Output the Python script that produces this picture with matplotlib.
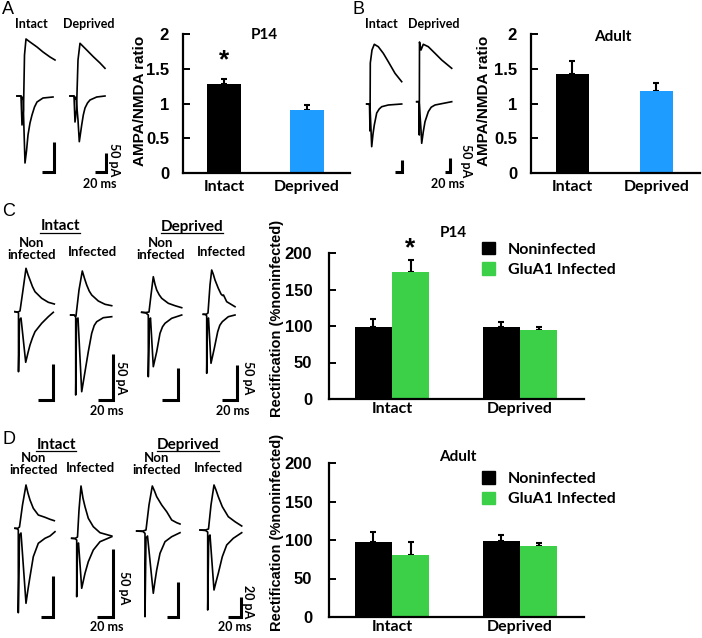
import numpy as np
import matplotlib
matplotlib.use("Agg")
import matplotlib.pyplot as plt
from matplotlib.patches import Patch

plt.rcParams['font.family'] = ['Liberation Sans', 'DejaVu Sans']

# ---------------- bar chart data ----------------
ratio_groups = ['Intact', 'Deprived']
p14_ratio = [1.28, 0.90]
p14_ratio_err = [0.07, 0.08]
adult_ratio = [1.42, 1.18]
adult_ratio_err = [0.19, 0.12]

rect_groups = ['Intact', 'Deprived']
rect_series = ['Noninfected', 'GluA1 Infected']
p14_non = [99, 99]
p14_non_err = [11, 7]
p14_inf = [174, 95]
p14_inf_err = [17, 3]
adult_non = [98, 99]
adult_non_err = [13, 7]
adult_inf = [80, 92]
adult_inf_err = [18, 4]

BLUE = '#1e9cff'
GREEN = '#3ccf48'
LAB = 'Lato'

# ---------------- example traces ----------------
# each cell: (upper t, upper amp, lower t, lower amp), offsets from the cell's baseline start
traces_A = [
    ([0, 4, 5, 6.5, 7.5, 9, 13, 20, 26, 33, 38],
     [0, 0, -29, -14, 41, 57, 54, 49, 44, 39, 36],
     [0, 4, 5, 6, 7, 8, 9.5, 11, 13, 15, 17.5, 20, 26, 36],
     [0, 0, -3, -1, -34, -67, -55, -39, -27, -19, -11, -6, -2, -1]),
    ([0, 4, 5, 6.5, 8, 10, 16.7, 23.3, 30, 35],
     [0, 0, -26, -14, 36, 52.7, 46, 39.3, 33, 27.7],
     [0, 4, 5, 6, 8, 9.3, 11.7, 13.3, 15, 17.5, 20, 26.7, 35],
     [0, 0, -3, -1, -24, -45.7, -29, -19, -12, -7, -4, -1, 0]),
]
traces_B = [
    ([0, 2.8, 3.3, 3.6, 5.3, 7.6, 11.6, 16.6, 21.6, 28.3, 35],
     [0, 0, -27, 41, 54, 59.7, 57.3, 50.7, 42.3, 30.7, 22.3],
     [0, 2.3, 3.3, 4.3, 5, 6.3, 7.6, 10, 12.5, 15, 21.6, 35],
     [0, 0, -2, -26, -42.7, -30, -21, -9, -5, -2.7, -1, 0]),
    ([0, 2.1, 2.6, 2.8, 4.3, 6.6, 11.6, 18.3, 25, 35],
     [0, 0, -33.3, 59.7, 51.7, 57.4, 55, 48.4, 41.7, 33.4],
     [0, 1.8, 2.6, 4.3, 5, 6.6, 8.3, 11.6, 14.5, 18.3, 35],
     [0, 0, -2.3, -28.3, -41.6, -30, -20, -10, -5.5, -3.3, 0]),
]
traces_C = [
    ([0, 3, 5, 8, 11, 13, 15, 17.5, 20, 26.7, 33.3, 39.3],
     [0, -0.3, 0.7, 21.7, 43.4, 37, 31.7, 25, 20, 13.4, 9.4, 7.7],
     [0, 2.7, 3.5, 3.5, 4.5, 6, 10.7, 13, 15, 17.5, 20, 26.7, 33.3, 38.3],
     [0, -0.6, -1.3, -60, -8.3, -6.3, -50.6, -41, -33.3, -26, -20, -11.6, -5, -0.6]),
    ([0, 3.3, 5.3, 8.3, 11.6, 14, 16, 18.5, 21, 27.6, 34.3, 41],
     [0, 0, -1, 25, 44, 36, 30, 24, 20, 14, 10.7, 9.3],
     [0, 3.3, 5, 5, 5.8, 7.3, 11, 14.3, 17.6, 21, 23.5, 26, 32.6, 41],
     [0, 0, -2, -80, -5, -3, -76.7, -56.7, -36.7, -18.3, -10.5, -6.7, -2.7, -1.7]),
    ([0, 4.3, 7.3, 9.3, 11.6, 13.3, 15, 17.5, 20, 26.6, 33.3, 40],
     [0, -0.2, 0.3, 17.3, 35.6, 28, 22.3, 17.5, 14, 9, 6.6, 4.6],
     [0, 4.3, 6.6, 6.6, 7.8, 8.8, 11.6, 15, 18.3, 20.8, 23.3, 30, 40],
     [0, -0.7, -2.7, -64.4, -7.7, -5.7, -54.4, -39.4, -21, -14.5, -11, -6, -2.7]),
    ([0, 2.7, 4.7, 6.7, 8.4, 10, 11.7, 15, 17.7, 19.2, 20.2, 23.4, 31.7],
     [0, -0.2, 1.3, 29.3, 44.3, 40, 34.3, 26, 20.3, 18.8, 19.3, 12.6, 7.6],
     [0, 2.2, 3.4, 3.4, 4.2, 5.2, 7.7, 11, 14.4, 16.5, 19, 25, 31.7],
     [0, 0, -1.7, -59, -5.7, -3.7, -49, -34, -17.4, -11, -7.4, -2.4, -0.7]),
]
traces_D = [
    ([0, 2.5, 4.5, 7.5, 11, 13, 15, 18.3, 23.3, 30, 35, 39.3],
     [0, -0.2, 1.3, 23.3, 43.3, 35, 28.3, 20, 13.3, 11, 9, 7.6],
     [0, 2, 3.3, 3.3, 4.5, 6, 11, 13, 15, 18.3, 23.3, 30, 35, 40],
     [0, -0.2, -1.7, -84.4, -6.7, -4.7, -75, -61, -48.4, -28.4, -15, -10, -7.7, -3.4]),
    ([0, 3.3, 5.8, 7.3, 9.3, 11.3, 13.3, 16.6, 21.6, 28.3, 40],
     [0, -0.2, 1.3, 28.3, 52.3, 40, 31.6, 20, 11.6, 5.6, 2.3],
     [0, 3.3, 5, 5, 5.8, 6.8, 10, 13.3, 16.6, 21.6, 28.3, 40],
     [0, -0.2, -1.7, -58.4, -6.7, -4.7, -50, -35, -23.4, -11.7, -3.4, 1.6]),
    ([0, 6.3, 9.3, 12.3, 15.6, 17.8, 20, 25, 30, 35, 40, 43.3],
     [0, 0, 1, 26, 45, 40, 34.3, 26, 19.3, 11, 8.3, 7],
     [0, 6.3, 8.3, 8.3, 9.3, 10.8, 16.6, 18.3, 20, 23.3, 28.3, 35, 43.3],
     [0, -0.5, -2.3, -85.7, -7, -5, -62.3, -50, -39, -22.3, -10.7, -5.7, -1.7]),
    ([0, 5.5, 8.5, 11, 14, 16, 18.3, 22.3, 28.3, 35, 41.7],
     [0, 0, 1, 25, 45, 40, 33.3, 23.3, 13.3, 8.3, 4],
     [0, 5.5, 7.7, 7.7, 8.7, 10, 14, 16, 18.3, 22.3, 26.7, 33.3, 41.7],
     [0, -0.5, -2, -80, -7, -5, -60, -52, -43.3, -26.7, -15, -8.3, -2.7]),
]

# layout of the trace cells (pixel positions) and their scale bars (corner x, corner y, vertical, horizontal)
origins_A = [(17, 96), (70, 96)]
bars_A = [(54, 172, 30, 12), (106, 172, 19, 11)]
origins_B = [(366.7, 104), (416.7, 101.7)]
bars_B = [(401.7, 171.7, 12, 7), (450, 171.7, 14, 5)]
origins_C = [(15, 311.7), (70.7, 315), (141.7, 312.3), (203.3, 314.3)]
bars_C = [(53, 400, 36.5, 15.5), (112.7, 400, 46.5, 15), (177.7, 400, 31.7, 16), (236.7, 400, 35, 14.4)]
origins_D = [(15, 528.3), (71.7, 538.3), (136.7, 531), (200, 530)]
bars_D = [(53, 617, 41, 12), (113, 617, 68, 16), (178.3, 617, 35, 11), (241, 617, 20, 12.7)]

fig = plt.figure(figsize=(7.02, 6.38), dpi=100)
over = fig.add_axes([0, 0, 1, 1])
over.set_xlim(0, 702)
over.set_ylim(638, 0)
over.axis('off')
over.patch.set_alpha(0)


def draw_cells(origins, traces, bars):
    for (x0, y0), (ut, ua, lt, la), (bx, by, bv, bh) in zip(origins, traces, bars):
        over.plot([x0 + t for t in ut], [y0 - a for a in ua], color='k', lw=1.2)
        over.plot([x0 + t for t in lt], [y0 - a for a in la], color='k', lw=1.2)
        over.plot([bx - bh, bx, bx], [by, by, by - bv], color='k', lw=2.2,
                  solid_joinstyle='miter', solid_capstyle='butt')


draw_cells(origins_A, traces_A, bars_A)
draw_cells(origins_B, traces_B, bars_B)
draw_cells(origins_C, traces_C, bars_C)
draw_cells(origins_D, traces_D, bars_D)


def small(x, y, s, size=9, rot=0, **kw):
    return over.text(x, y, s, fontsize=size, fontweight='bold', family=LAB,
                     ha='center', va='center', rotation=rot, **kw)


# panel letters
for x, y, s in [(2, 9, 'A'), (352, 9, 'B'), (2, 212, 'C'), (3, 440, 'D')]:
    over.text(x, y, s, fontsize=13, ha='left', va='center')

# panel A/B trace labels
small(31, 24, 'Intact')
small(89, 24, 'Deprived')
small(381, 24, 'Intact')
small(434, 24, 'Deprived')
small(114, 160, '50 pA', rot=270)
small(100, 184, '20 ms')
small(466, 161, '50 pA', rot=270)
small(448, 184, '20 ms')

# panel C/D trace labels
underlined = []
for yy, dx in [(226.5, 0), (445, 4)]:
    underlined.append(small(60 - dx, yy, 'Intact', size=11))
    underlined.append(small(192 - dx, yy, 'Deprived', size=11))
for yy, xs in [(249, (31.7, 92.7, 161, 221.7)), (464, (33.3, 90.7, 156.7, 218.3))]:
    small(xs[0], yy, 'Non\ninfected', size=9.5, linespacing=0.95)
    small(xs[1], yy + 3.5, 'Infected', size=9.5)
    small(xs[2], yy, 'Non\ninfected', size=9.5, linespacing=0.95)
    small(xs[3], yy + 3.5, 'Infected', size=9.5)
small(121, 378, '50 pA', rot=270)
small(107, 411, '20 ms')
small(248.5, 378, '50 pA', rot=270)
small(233, 411, '20 ms')
small(123.5, 588, '50 pA', rot=270)
small(107, 627, '20 ms')
small(248.5, 602, '20 pA', rot=270)
small(235, 627, '20 ms')


def style_axes(ax, pad):
    for s in ['top', 'right']:
        ax.spines[s].set_visible(False)
    for s in ['left', 'bottom']:
        ax.spines[s].set_linewidth(1.6)
    ax.patch.set_alpha(0)
    ax.tick_params(axis='y', direction='in', length=5, width=1.4, pad=pad, labelsize=12)
    ax.tick_params(axis='x', length=0, pad=5)
    for t in ax.get_yticklabels():
        t.set_fontweight('bold')
    for t in ax.get_xticklabels():
        t.set_fontweight('bold')
        t.set_family(LAB)
        t.set_fontsize(11.5)


def ratio_panel(rect, vals, errs, title, title_xy, ylab_x, star):
    ax = fig.add_axes(rect)
    x = np.arange(len(vals))
    ax.errorbar(x, vals, yerr=[np.zeros(len(vals)), errs], fmt='none', ecolor='k',
                elinewidth=1.5, capsize=2, capthick=1.5, zorder=1)
    ax.bar(x, vals, width=0.4, color=['black', BLUE], zorder=2)
    ax.set_xlim(-0.494, 1.518)
    ax.set_ylim(0, 2)
    ax.set_yticks([0, 0.5, 1, 1.5, 2])
    ax.set_yticklabels(['0', '0.5', '1', '1.5', '2'])
    ax.set_xticks(x)
    ax.set_xticklabels(ratio_groups)
    style_axes(ax, 10)
    ax.set_ylabel('AMPA/NMDA ratio', fontsize=11, fontweight='bold')
    ax.yaxis.set_label_coords(ylab_x, 0.52)
    ax.text(title_xy[0], title_xy[1], title, transform=ax.transAxes, fontsize=11,
            fontweight='bold', family=LAB, ha='center', va='center')
    if star:
        ax.text(0, 1.62, '*', fontsize=19, fontweight='bold', ha='center', va='center')
    return ax


def rect_panel(rect, non, non_err, inf, inf_err, title, title_xy, leg_y, star):
    ax = fig.add_axes(rect)
    x = np.arange(len(non))
    w = 0.29
    ax.errorbar(x - w / 2, non, yerr=[np.zeros(len(non)), non_err], fmt='none', ecolor='k',
                elinewidth=1.5, capsize=2, capthick=1.5, zorder=1)
    ax.errorbar(x + w / 2, inf, yerr=[np.zeros(len(inf)), inf_err], fmt='none', ecolor='k',
                elinewidth=1.5, capsize=2, capthick=1.5, zorder=1)
    ax.bar(x - w / 2, non, width=w, color='black', zorder=2)
    ax.bar(x + w / 2, inf, width=w, color=GREEN, zorder=2)
    ax.set_xlim(-0.492, 1.5)
    ax.set_ylim(0, 200)
    ax.set_yticks([0, 50, 100, 150, 200])
    ax.set_xticks(x)
    ax.set_xticklabels(rect_groups)
    style_axes(ax, 12)
    ax.tick_params(axis='x', pad=2)
    ax.set_ylabel('Rectification (%noninfected)', fontsize=10.5, fontweight='bold')
    ax.yaxis.set_label_coords(-0.175, 0.55)
    ax.text(title_xy[0], title_xy[1], title, transform=ax.transAxes, fontsize=11,
            fontweight='bold', family=LAB, ha='center', va='center')
    handles = [Patch(color='black'), Patch(color=GREEN)]
    ax.legend(handles, rect_series, loc='upper left', bbox_to_anchor=(0.6, leg_y),
              frameon=False, borderpad=0, borderaxespad=0, handlelength=0.8,
              handleheight=0.8, handletextpad=0.8, labelspacing=0.35,
              prop={'family': LAB, 'weight': 'bold', 'size': 11.5})
    if star:
        ax.text(0 + w / 2, 206, '*', fontsize=19, fontweight='bold', ha='center',
                va='center', clip_on=False)
    return ax


ratio_panel([183 / 702, 1 - 173 / 638, 167 / 702, 139 / 638], p14_ratio, p14_ratio_err,
            'P14', (0.485, 0.99), -0.215, True)
ratio_panel([531 / 702, 1 - 173 / 638, 169 / 702, 139 / 638], adult_ratio, adult_ratio_err,
            'Adult', (0.485, 0.975), -0.237, False)
rect_panel([329 / 702, 1 - 399 / 638, 255 / 702, 146 / 638], p14_non, p14_non_err,
           p14_inf, p14_inf_err, 'P14', (0.486, 1.137), 1.075, True)
rect_panel([329 / 702, 1 - 617 / 638, 255 / 702, 154 / 638], adult_non, adult_non_err,
           adult_inf, adult_inf_err, 'Adult', (0.506, 1.039), 0.945, False)

# underline the group headings above the C/D traces
fig.canvas.draw()
inv = over.transData.inverted()
for t in underlined:
    bb = t.get_window_extent()
    (x1, y1), (x2, y2) = inv.transform([(bb.x0, bb.y0), (bb.x1, bb.y0)])
    over.plot([x1, x2], [y1 - 1, y2 - 1], color='k', lw=0.9)

fig.savefig('out.png', dpi=100)
